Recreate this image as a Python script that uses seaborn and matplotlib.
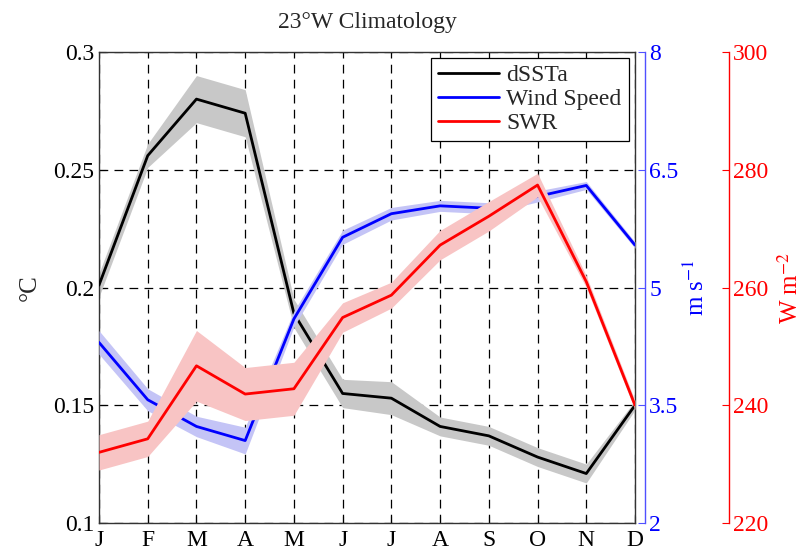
import numpy as np
import pandas as pd
import seaborn as sns
import matplotlib.pyplot as plt
from matplotlib.lines import Line2D

months = ['J', 'F', 'M', 'A', 'M', 'J', 'J', 'A', 'S', 'O', 'N', 'D']
month_idx = list(range(1, 13))

dssta = [0.201, 0.256, 0.280, 0.274, 0.189, 0.155, 0.153, 0.141, 0.137, 0.128, 0.121, 0.150]
dssta_err = [0.005, 0.005, 0.010, 0.010, 0.006, 0.006, 0.007, 0.004, 0.004, 0.004, 0.004, 0.002]

wind = [4.30, 3.57, 3.23, 3.05, 4.60, 5.64, 5.94, 6.04, 6.01, 6.16, 6.30, 5.54]
wind_err = [0.15, 0.14, 0.13, 0.17, 0.10, 0.09, 0.08, 0.07, 0.07, 0.07, 0.05, 0.04]

swr = [232.0, 234.3, 246.7, 241.9, 242.8, 254.9, 258.7, 267.2, 272.1, 277.4, 261.0, 240.0]
swr_err = [3.0, 3.0, 6.0, 4.5, 4.5, 2.5, 2.2, 2.5, 2.5, 2.0, 1.0, 0.8]

df = pd.DataFrame({'month': month_idx, 'dssta': dssta, 'wind': wind, 'swr': swr})

sns.set_style("ticks")
plt.rcParams['font.family'] = ['Liberation Serif', 'DejaVu Serif']
plt.rcParams['mathtext.fontset'] = 'stix'
fs = 17

fig = plt.figure(figsize=(8.07, 5.57), dpi=100)
ax = fig.add_axes([99 / 807, 34 / 557, 536 / 807, 471 / 557])
ax2 = ax.twinx()
ax3 = ax.twinx()

# bands
ax.fill_between(month_idx, np.array(dssta) - dssta_err, np.array(dssta) + dssta_err,
                color='#c8c8c8', lw=0, zorder=1)
ax2.fill_between(month_idx, np.array(wind) - wind_err, np.array(wind) + wind_err,
                 color='#c4c4f6', lw=0, zorder=1)
ax3.fill_between(month_idx, np.array(swr) - swr_err, np.array(swr) + swr_err,
                 color='#f8c4c4', lw=0, zorder=1)

sns.lineplot(data=df, x='month', y='dssta', ax=ax, color='black', lw=2.0, zorder=3)
sns.lineplot(data=df, x='month', y='wind', ax=ax2, color='blue', lw=2.0, zorder=3)
sns.lineplot(data=df, x='month', y='swr', ax=ax3, color='red', lw=2.0, zorder=3)

# main axis
ax.set_xlim(1, 12)
ax.set_ylim(0.1, 0.3)
ax.set_xticks(month_idx)
ax.set_xticklabels(months)
ax.set_yticks([0.1, 0.15, 0.2, 0.25, 0.3])
ax.set_yticklabels(['0.1', '0.15', '0.2', '0.25', '0.3'])
ax.set_xlabel('')
ax.set_ylabel('°C', fontsize=fs + 1, labelpad=9)
ax.tick_params(axis='both', direction='in', length=5, labelsize=fs, colors='black',
               top=False, right=False)
ax.tick_params(axis='x', pad=5)
ax.grid(True, color='black', ls=(0, (7, 5)), lw=0.9)
for s in ax.spines.values():
    s.set_color('#333333')
    s.set_linewidth(1.0)
ax.set_title('23°W Climatology', fontsize=fs, pad=17)

# wind axis
ax2.set_ylim(2, 8)
ax2.set_yticks([2, 3.5, 5, 6.5, 8])
ax2.set_yticklabels(['2', '3.5', '5', '6.5', '8'])
ax2.spines['right'].set_position(('axes', 1.0187))
ax2.spines['right'].set_color('#5050ff')
ax2.spines['right'].set_linewidth(1.0)
for k in ['left', 'top', 'bottom']:
    ax2.spines[k].set_visible(False)
ax2.tick_params(axis='y', direction='in', length=5, labelsize=fs, colors='blue',
                color='#5050ff', pad=3)
ax2.set_ylabel('m s$^{-1}$', color='blue', fontsize=fs + 1, labelpad=4)

# swr axis
ax3.set_ylim(220, 300)
ax3.set_yticks([220, 240, 260, 280, 300])
ax3.spines['right'].set_position(('axes', 1.1754))
ax3.spines['right'].set_color('red')
ax3.spines['right'].set_linewidth(1.0)
for k in ['left', 'top', 'bottom']:
    ax3.spines[k].set_visible(False)
ax3.tick_params(axis='y', direction='in', length=5, labelsize=fs, colors='red', pad=3)
ax3.set_ylabel('W m$^{-2}$', color='red', fontsize=fs + 1, labelpad=7)

handles = [Line2D([], [], color='black', lw=2.0),
           Line2D([], [], color='blue', lw=2.0),
           Line2D([], [], color='red', lw=2.0)]
leg = ax3.legend(handles, ['dSSTa', 'Wind Speed', 'SWR'], loc='upper right',
                 bbox_to_anchor=(0.988, 0.988), fontsize=fs, frameon=True, fancybox=False,
                 edgecolor='black', framealpha=1, borderpad=0.3, labelspacing=0.1,
                 handlelength=2.6, handletextpad=0.3, borderaxespad=0)
leg.get_frame().set_linewidth(0.9)
leg.set_zorder(10)

fig.savefig('out.png', dpi=100)
